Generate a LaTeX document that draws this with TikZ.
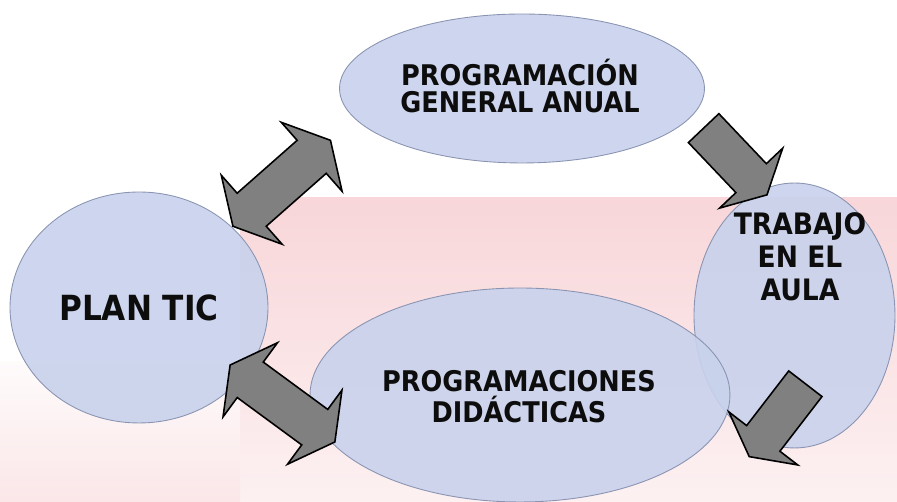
\documentclass[tikz,border=0pt]{standalone}
\usepackage{fontspec}
\setmainfont{DejaVu Sans Condensed}
\usetikzlibrary{shapes.geometric}

\definecolor{ellfill}{RGB}{200,210,236}
\definecolor{elldraw}{RGB}{138,148,178}
\definecolor{arrfill}{RGB}{128,128,128}
\definecolor{wmpink}{RGB}{248,214,217}

\begin{document}
\begin{tikzpicture}[x=0.02cm, y=0.02cm,
    bubble/.style={ellipse, draw=elldraw, line width=0.5pt, fill=ellfill, fill opacity=0.9, text opacity=1, inner sep=0pt},
    bubbletext/.style={align=center, text=black!95, font=\bfseries\fontsize{16.8}{18.8}\selectfont},
    blockarrow/.style={draw=black, line width=0.9pt, fill=arrfill, line join=miter},
    dblarrow/.pic={\path[blockarrow] (-65,0) -- (-40,46) -- (-40,22) -- (40,22) -- (40,46) -- (65,0) -- (40,-46) -- (40,-22) -- (-40,-22) -- (-40,-46) -- cycle;},
    sglarrow/.pic={\path[blockarrow] (-46,21) -- (23,21) -- (23,43.5) -- (46,0) -- (23,-43.5) -- (23,-21) -- (-46,-21) -- cycle;}
  ]
  \useasboundingbox (0,0) rectangle (897,502);

  % Faded background
  \shade[top color=wmpink, bottom color=wmpink!35] (240,0) rectangle (897,304);
  \shade[top color=wmpink!10, bottom color=wmpink!60] (0,0) rectangle (240,140);

  % Ellipses
  \node[bubble, minimum width=7.3cm, minimum height=2.98cm] (general) at (522,413.5) {};
  \node[bubble, minimum width=5.16cm, minimum height=4.62cm] (plantic) at (139,194.5) {};
  \node[bubble, minimum width=4.02cm, minimum height=5.3cm] (aula) at (794.5,186.5) {};
  \node[bubble, minimum width=8.4cm, minimum height=4.28cm] (didacticas) at (520,107) {};

  % Labels
  \node[bubbletext, font=\bfseries\fontsize{16.2}{15.4}\selectfont] (generaltext) at (520,416) {PROGRAMACIÓN\\GENERAL ANUAL};
  \node[bubbletext, font=\bfseries\fontsize{19.7}{22}\selectfont] (plantictext) at (plantic) {PLAN TIC};
  \node[bubbletext] (aulatext) at (800,245.5) {TRABAJO\\EN EL\\AULA};
  \node[bubbletext, font=\bfseries\fontsize{16.2}{17.8}\selectfont] (didacticastext) at (519,105.5) {PROGRAMACIONES\\DIDÁCTICAS};

  % Arrows
  \pic[rotate=41.4] (ticgeneral) at (281.7,318.7) {dblarrow};
  \pic[rotate=-46.5] (generalaula) at (735.3,340.5) {sglarrow};
  \pic[rotate=-127.6] (auladidacticas) at (777.3,81.8) {sglarrow};
  \pic[rotate=-36.3] (ticdidacticas) at (282.5,98.5) {dblarrow};
\end{tikzpicture}
\end{document}
